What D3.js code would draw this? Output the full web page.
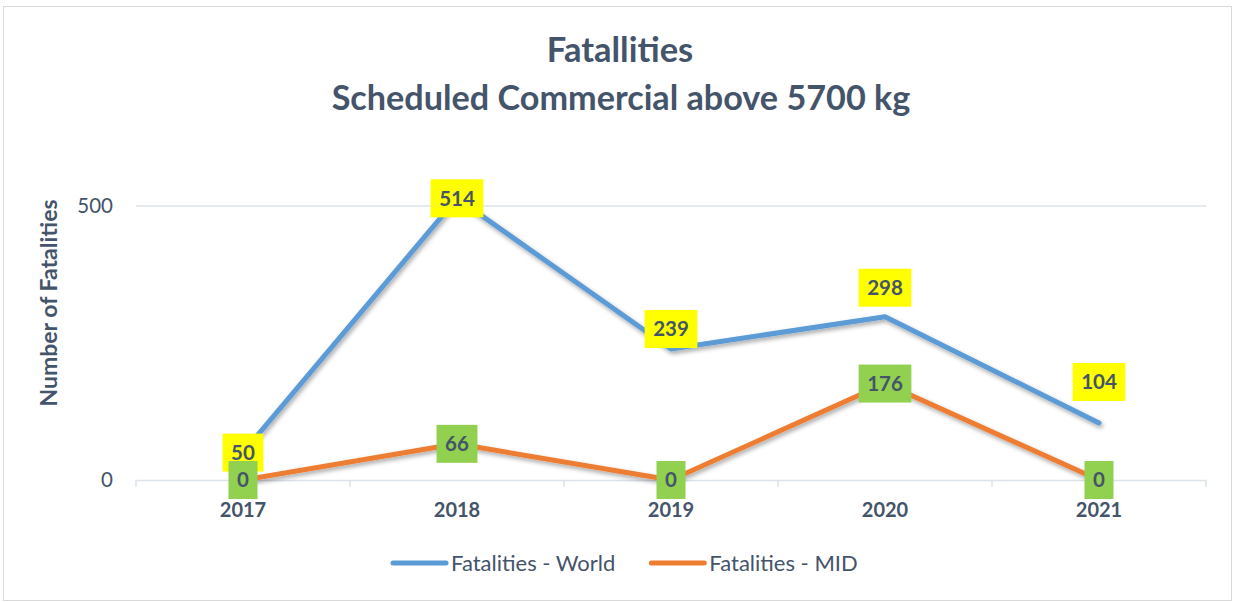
<!DOCTYPE html>
<html><head><meta charset="utf-8">
<script src="https://cdn.jsdelivr.net/npm/d3@7/dist/d3.min.js"></script>
<style>
html,body{margin:0;padding:0;background:#fff;}
svg{display:block;font-family:Lato,"Open Sans",sans-serif;}
</style></head>
<body>
<svg id="c" width="1234" height="602"></svg>
<script>
const years = ["2017","2018","2019","2020","2021"];
const worldValues = [50, 514, 239, 298, 104];
const midValues = [0, 66, 0, 176, 0];
const yTicks = [0, 500];
const seriesNames = ["Fatalities - World", "Fatalities - MID"];
const titleLines = ["Fatallities", "Scheduled Commercial above 5700 kg"];
const yTitle = "Number of Fatalities";

// layout-only label nudges (pixels above the point) for the world series labels
const worldLabelLift = [0, 0, 20, 29, 41];

const textCol = "#44546A";
const colors = ["#5B9BD5", "#ED7D31"];
const boxColors = ["#FFFF00", "#92D050"];

const svg = d3.select("#c");
const W = 1234, H = 602;

svg.append("rect").attr("x",3.5).attr("y",6.5).attr("width",W-6).attr("height",H-8)
  .attr("fill","#fff").attr("stroke","#D9D9D9").attr("stroke-width",1);

const defs = svg.append("defs");
const f = defs.append("filter").attr("id","sh").attr("x","-10%").attr("y","-10%").attr("width","120%").attr("height","130%");
f.append("feDropShadow").attr("dx",1.5).attr("dy",2.5).attr("stdDeviation",2).attr("flood-color","#000").attr("flood-opacity",0.35);

const x = d3.scaleBand().domain(years).range([136, 1206]);
const y = d3.scaleLinear().domain([0, 500]).range([480, 206]);

// title
svg.append("text").attr("x",620).attr("y",62).attr("text-anchor","middle")
  .attr("font-weight","bold").attr("font-size",34.5).attr("fill",textCol).text(titleLines[0]);
svg.append("text").attr("x",621).attr("y",110).attr("text-anchor","middle")
  .attr("font-weight","bold").attr("font-size",34.2).attr("fill",textCol).text(titleLines[1]);

// gridline
svg.append("g").selectAll("line").data(yTicks.filter(d=>d>0)).join("line")
  .attr("x1",136).attr("x2",1206).attr("y1",d=>y(d)).attr("y2",d=>y(d))
  .attr("stroke","#DDE3EA").attr("stroke-width",1.5);

// y axis labels
const yAxis = d3.axisLeft(y).tickValues(yTicks).tickSize(0).tickPadding(23);
const gy = svg.append("g").attr("transform","translate(136,0)").call(yAxis);
gy.select(".domain").remove();
gy.selectAll("text").attr("font-size",20.5).attr("fill",textCol).attr("font-family","Lato,sans-serif");

// x axis
const xAxis = d3.axisBottom(x).tickSize(0).tickPadding(23);
const gx = svg.append("g").attr("transform","translate(0,480)").call(xAxis);
gx.select(".domain").attr("stroke","#DDE3EA").attr("stroke-width",1.5);
gx.selectAll("text").attr("font-size",20).attr("font-weight","bold").attr("fill",textCol).attr("font-family","Lato,sans-serif");
const bounds = years.map(d=>x(d)).concat([x(years[years.length-1]) + x.bandwidth()]);
svg.append("g").selectAll("line").data(bounds).join("line")
  .attr("x1",d=>d).attr("x2",d=>d).attr("y1",480).attr("y2",487)
  .attr("stroke","#DDE3EA").attr("stroke-width",1.5);

// y title
svg.append("text").attr("transform","translate(57,303) rotate(-90)").attr("text-anchor","middle")
  .attr("font-size",23).attr("font-weight","bold").attr("fill",textCol).text(yTitle);

// lines
const line = d3.line().x((d,i)=>x(years[i]) + x.bandwidth()/2).y(d=>y(d));
[worldValues, midValues].forEach((vals, k) => {
  svg.append("path").datum(vals).attr("d", line).attr("fill","none")
    .attr("stroke", colors[k]).attr("stroke-width",5).attr("stroke-linecap","round")
    .attr("stroke-linejoin","round").attr("filter","url(#sh)");
});

// labels
function drawLabels(vals, k, lift) {
  const g = svg.append("g");
  vals.forEach((v, i) => {
    const cx = x(years[i]) + x.bandwidth()/2;
    const cy = y(v) - (lift ? lift[i] : 0);
    const lg = g.append("g");
    const t = lg.append("text").attr("x",cx).attr("y",cy).attr("dy","0.36em")
      .attr("text-anchor","middle").attr("font-size",20.5).attr("font-weight","bold")
      .attr("fill",textCol).text(v);
    const bb = t.node().getBBox();
    const padX = 8.5;
    lg.insert("rect","text").attr("x",cx - bb.width/2 - padX).attr("y",cy - 19)
      .attr("width",bb.width + 2*padX).attr("height",38).attr("fill",boxColors[k]);
  });
}
drawLabels(worldValues, 0, worldLabelLift);
drawLabels(midValues, 1, null);

// legend
const legend = svg.append("g").attr("transform","translate(391,563)");
let lx = 0;
seriesNames.forEach((name, k) => {
  const g = legend.append("g").attr("transform",`translate(${lx},0)`);
  g.append("line").attr("x1",2).attr("x2",55).attr("y1",0).attr("y2",0)
    .attr("stroke",colors[k]).attr("stroke-width",5).attr("stroke-linecap","round");
  const t = g.append("text").attr("x",60).attr("y",0).attr("dy","0.35em")
    .attr("font-size",22).attr("fill",textCol).text(name);
  lx += 60 + t.node().getComputedTextLength() + 34;
});
</script>
</body></html>
